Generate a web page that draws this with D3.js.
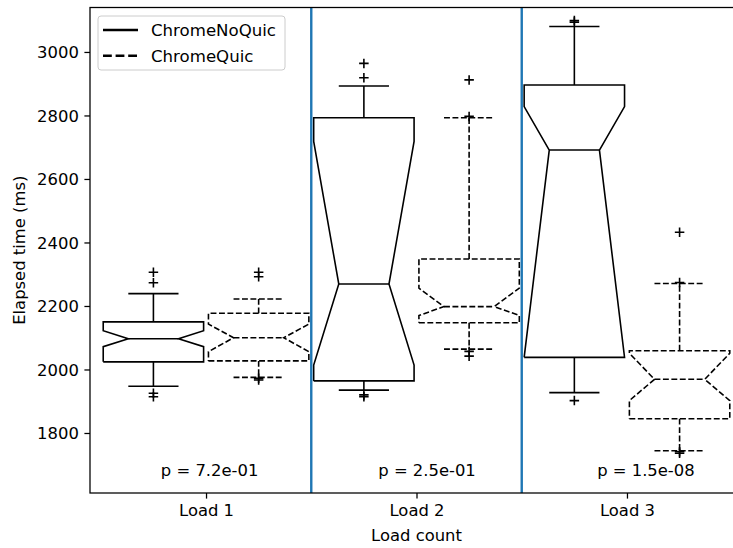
<!DOCTYPE html>
<html>
<head>
<meta charset="utf-8">
<script src="https://cdn.jsdelivr.net/npm/d3@7"></script>
<style>
  html, body { margin: 0; padding: 0; background: #fff; }
  svg { display: block; }
  text { font-family: "DejaVu Sans", sans-serif; fill: #000; }
</style>
</head>
<body>
<svg id="chart" width="733" height="548"></svg>
<script>
// ---------------- data ----------------
const categories = ["Load 1", "Load 2", "Load 3"];
const seriesNames = ["ChromeNoQuic", "ChromeQuic"];

const noQuicBoxes = [
  { whislo: 1947, q1: 2024, notchlo: 2072, med: 2097, notchhi: 2122, q3: 2150, whishi: 2239, fliers: [1914, 1925, 2273, 2306] },
  { whislo: 1935, q1: 1964, notchlo: 2014, med: 2269, notchhi: 2718, q3: 2793, whishi: 2893, fliers: [1914, 1920, 2919, 2964] },
  { whislo: 1927, q1: 2038, notchlo: 2038, med: 2691, notchhi: 2828, q3: 2896, whishi: 3080, fliers: [1902, 3094, 3099] }
];
const quicBoxes = [
  { whislo: 1975, q1: 2027, notchlo: 2056, med: 2100, notchhi: 2143, q3: 2177, whishi: 2222, fliers: [1967, 1972, 2292, 2306] },
  { whislo: 2064, q1: 2147, notchlo: 2170, med: 2198, notchhi: 2256, q3: 2348, whishi: 2793, fliers: [2042, 2057, 2797, 2912] },
  { whislo: 1744, q1: 1845, notchlo: 1902, med: 1969, notchhi: 2051, q3: 2059, whishi: 2271, fliers: [1736, 1741, 2274, 2432] }
];
const pValueLabels = ["p = 7.2e-01", "p = 2.5e-01", "p = 1.5e-08"];
const yTickValues = [1800, 2000, 2200, 2400, 2600, 2800, 3000];

// ---------------- layout ----------------
const svg = d3.select("#chart");
const plot = { left: 90, right: 743, top: 7.5, bottom: 493 };
const x = d3.scaleLinear().domain([0.4487, 3.5513]).range([plot.left, plot.right]);
const y = d3.scaleLinear().domain([1611, 3140]).range([plot.bottom, plot.top]);

const boxWidth = 0.477;
const offsets = [-0.25, 0.25];
const lw = 1.59;
const dash = "5.9,2.54";
const fontPx = 16.4;

function drawBox(g, s, pos, dashed) {
  const L = x(pos - boxWidth / 2), R = x(pos + boxWidth / 2);
  const cL = x(pos - boxWidth / 4), cR = x(pos + boxWidth / 4);
  const cx = x(pos);
  const style = sel => sel.attr("stroke", "#000").attr("stroke-width", lw).attr("fill", "none")
    .attr("stroke-dasharray", dashed ? dash : null);
  // whiskers
  g.append("line").attr("x1", cx).attr("x2", cx).attr("y1", y(s.q1)).attr("y2", y(s.whislo)).call(style);
  g.append("line").attr("x1", cx).attr("x2", cx).attr("y1", y(s.q3)).attr("y2", y(s.whishi)).call(style);
  // caps
  g.append("line").attr("x1", cL).attr("x2", cR).attr("y1", y(s.whislo)).attr("y2", y(s.whislo)).call(style);
  g.append("line").attr("x1", cL).attr("x2", cR).attr("y1", y(s.whishi)).attr("y2", y(s.whishi)).call(style);
  // notched box
  const pts = [
    [L, y(s.q1)], [R, y(s.q1)], [R, y(s.notchlo)], [cR, y(s.med)], [R, y(s.notchhi)], [R, y(s.q3)],
    [L, y(s.q3)], [L, y(s.notchhi)], [cL, y(s.med)], [L, y(s.notchlo)], [L, y(s.q1)]
  ];
  g.append("path").attr("d", d3.line()(pts)).call(style).attr("stroke-linejoin", "miter");
  // median
  g.append("line").attr("x1", cL).attr("x2", cR).attr("y1", y(s.med)).attr("y2", y(s.med)).call(style);
  // fliers
  const h = 4.75;
  s.fliers.forEach(v => {
    const fy = y(v);
    g.append("path").attr("d", `M${cx - h},${fy}H${cx + h}M${cx},${fy - h}V${fy + h}`)
      .attr("stroke", "#000").attr("stroke-width", lw).attr("fill", "none");
  });
}

const gBoxes = svg.append("g");
categories.forEach((c, i) => {
  drawBox(gBoxes, noQuicBoxes[i], i + 1 + offsets[0], false);
  drawBox(gBoxes, quicBoxes[i], i + 1 + offsets[1], true);
});

// separators
[1.5, 2.5].forEach(v => {
  svg.append("line").attr("x1", x(v)).attr("x2", x(v)).attr("y1", plot.top).attr("y2", plot.bottom)
    .attr("stroke", "#1f77b4").attr("stroke-width", 2.4);
});

// p-value annotations
const pTextX = [1.017, 2.05, 3.09];
pValueLabels.forEach((t, i) => {
  svg.append("text").attr("x", x(pTextX[i])).attr("y", y(1665)).attr("text-anchor", "middle")
    .attr("font-size", fontPx).text(t);
});

// axes
const yAxis = d3.axisLeft(y).tickValues(yTickValues).tickSize(5.6).tickPadding(5.6).tickFormat(d3.format("d"));
const gy = svg.append("g").attr("transform", `translate(${plot.left},0)`).call(yAxis);
gy.select(".domain").remove();
gy.selectAll(".tick line").attr("stroke-width", 1.27);
gy.selectAll(".tick text").attr("font-size", fontPx).attr("font-family", "DejaVu Sans").attr("dy", "0.35em");

const xAxis = d3.axisBottom(x).tickValues([1, 2, 3]).tickFormat((d, i) => categories[i]).tickSize(5.6).tickPadding(5.6);
const gx = svg.append("g").attr("transform", `translate(0,${plot.bottom})`).call(xAxis);
gx.select(".domain").remove();
gx.selectAll(".tick line").attr("stroke-width", 1.27);
gx.selectAll(".tick text").attr("font-size", fontPx).attr("font-family", "DejaVu Sans");

// spines
svg.append("rect").attr("x", plot.left).attr("y", plot.top)
  .attr("width", plot.right - plot.left).attr("height", plot.bottom - plot.top)
  .attr("fill", "none").attr("stroke", "#000").attr("stroke-width", 1.27);

// axis labels
svg.append("text").attr("x", (plot.left + plot.right) / 2).attr("y", 541).attr("text-anchor", "middle")
  .attr("font-size", fontPx).text("Load count");
svg.append("text").attr("transform", `translate(25,${(plot.top + plot.bottom) / 2}) rotate(-90)`)
  .attr("text-anchor", "middle").attr("font-size", fontPx).text("Elapsed time (ms)");

// legend
const lg = svg.append("g");
lg.append("rect").attr("x", 98).attr("y", 16).attr("width", 187).attr("height", 54).attr("rx", 3)
  .attr("fill", "#fff").attr("fill-opacity", 0.8).attr("stroke", "#cccccc").attr("stroke-width", 1);
seriesNames.forEach((n, i) => {
  const ly = 30 + i * 25.7;
  lg.append("line").attr("x1", 103).attr("x2", 138).attr("y1", ly).attr("y2", ly)
    .attr("stroke", "#000").attr("stroke-width", 2.4).attr("stroke-dasharray", i === 1 ? "8.8,3.8" : null);
  lg.append("text").attr("x", 151).attr("y", ly + 6).attr("font-size", 16.6).text(n);
});
</script>
</body>
</html>
